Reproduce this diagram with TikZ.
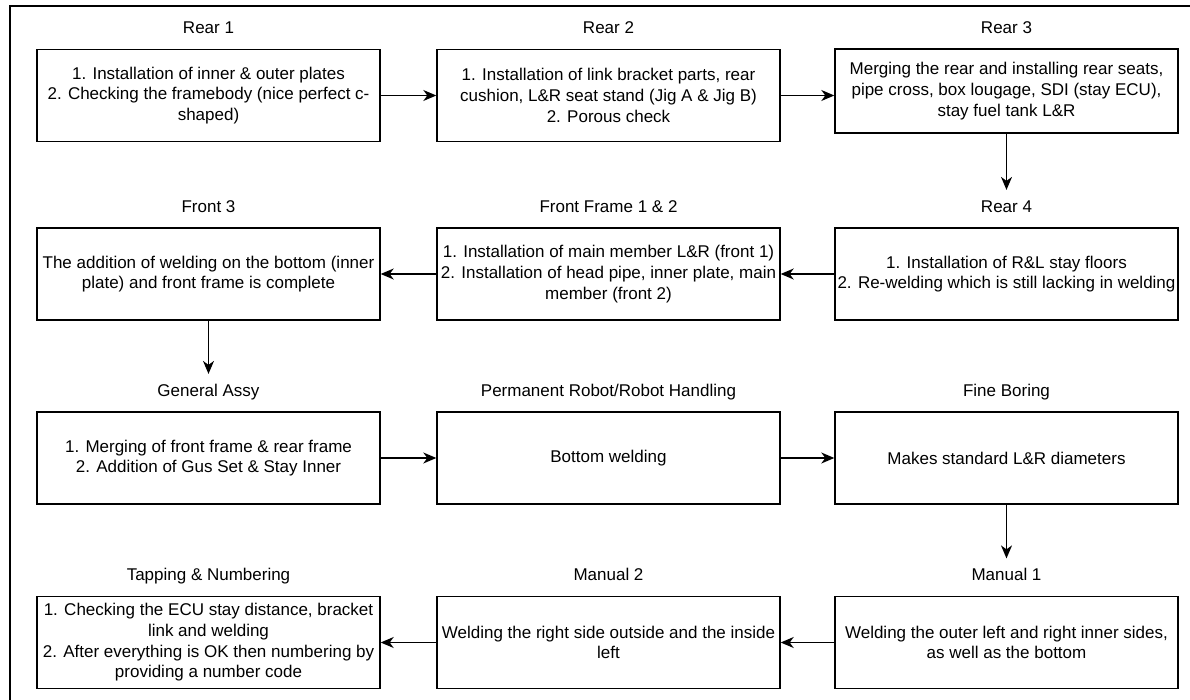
\documentclass[tikz,border=0pt]{standalone}
\usepackage{fontspec}
\setmainfont{Liberation Sans}
\usetikzlibrary{arrows.meta, positioning}

\begin{document}
\begin{tikzpicture}[x=0.5pt, y=-0.5pt,
  stepbox/.style={draw, line width=0.7pt, minimum width=171.5pt, minimum height=46pt,
    inner sep=1pt, align=center, font=\fontsize{8.5}{10.35}\selectfont},
  title/.style={inner xsep=1pt, inner ysep=4.5pt, text height=6.5pt, text depth=1.5pt,
    font=\fontsize{8.5}{10.35}\selectfont},
  flow/.style={line width=0.7pt, -{Stealth[length=6.5pt, width=5.5pt, inset=2pt]}}]
  \useasboundingbox (0,0) rectangle (1190,700);

  % Cadre
  \draw[line width=0.7pt] (10,700) |- (1190,6);

  % Ligne 1 : Rear 1, Rear 2, Rear 3
  \node[stepbox] (r1) at (208.5,95.5) {1. Installation of inner \& outer plates\\2. Checking the framebody (nice perfect c-\\shaped)};
  \node[title, above=7.5pt of r1.north, anchor=base] (r1t) {Rear 1};
  \node[stepbox] (r2) at (608.5,95.5) {1. Installation of link bracket parts, rear\\cushion, L\&R seat stand (Jig A \& Jig B)\\2. Porous check};
  \node[title, above=7.5pt of r2.north, anchor=base] (r2t) {Rear 2};
  \node[stepbox, minimum height=42pt] (r3) at (1006.5,91) {Merging the rear and installing rear seats,\\pipe cross, box lougage, SDI (stay ECU),\\stay fuel tank L\&R};
  \node[title, above=7.5pt of r3.north, anchor=base] (r3t) {Rear 3};

  % Ligne 2 : Front 3, Front Frame 1 & 2, Rear 4
  \node[stepbox] (f3) at (208.5,274) {The addition of welding on the bottom (inner\\plate) and front frame is complete};
  \node[title, above=7.5pt of f3.north, anchor=base] (f3t) {Front 3};
  \node[stepbox] (ff) at (608.5,274) {1. Installation of main member L\&R (front 1)\\2. Installation of head pipe, inner plate, main\\member (front 2)};
  \node[title, above=7.5pt of ff.north, anchor=base] (fft) {Front Frame 1 \& 2};
  \node[stepbox] (r4) at (1006.5,274) {1. Installation of R\&L stay floors\\2. Re-welding which is still lacking in welding};
  \node[title, above=7.5pt of r4.north, anchor=base] (r4t) {Rear 4};

  % Ligne 3 : General Assy, Permanent Robot, Fine Boring
  \node[stepbox] (ga) at (208.5,458) {1. Merging of front frame \& rear frame\\2. Addition of Gus Set \& Stay Inner};
  \node[title, above=7.5pt of ga.north, anchor=base] (gat) {General Assy};
  \node[stepbox] (pr) at (608.5,458) {Bottom welding};
  \node[title, above=7.5pt of pr.north, anchor=base] (prt) {Permanent Robot/Robot Handling};
  \node[stepbox] (fb) at (1006.5,458) {Makes standard L\&R diameters};
  \node[title, above=7.5pt of fb.north, anchor=base] (fbt) {Fine Boring};

  % Ligne 4 : Tapping & Numbering, Manual 2, Manual 1
  \node[stepbox] (tn) at (208.5,642.5) {1. Checking the ECU stay distance, bracket\\link and welding\\2. After everything is OK then numbering by\\providing a number code};
  \node[title, above=7.5pt of tn.north, anchor=base] (tnt) {Tapping \& Numbering};
  \node[stepbox] (m2) at (608.5,642.5) {Welding the right side outside and the inside\\left};
  \node[title, above=7.5pt of m2.north, anchor=base] (m2t) {Manual 2};
  \node[stepbox] (m1) at (1006.5,642.5) {Welding the outer left and right inner sides,\\as well as the bottom};
  \node[title, above=7.5pt of m1.north, anchor=base] (m1t) {Manual 1};

  % Flux
  \draw[flow] (r1) -- (r2);
  \draw[flow] (r2) -- (r2 -| r3.west);
  \draw[flow] (r3) -- (r4t);
  \draw[flow] (r4) -- (ff);
  \draw[flow] (ff) -- (f3);
  \draw[flow] (f3) -- (gat);
  \draw[flow] (ga) -- (pr);
  \draw[flow] (pr) -- (fb);
  \draw[flow] (fb) -- (m1t);
  \draw[flow] (m1) -- (m2);
  \draw[flow] (m2) -- (tn);
\end{tikzpicture}
\end{document}
